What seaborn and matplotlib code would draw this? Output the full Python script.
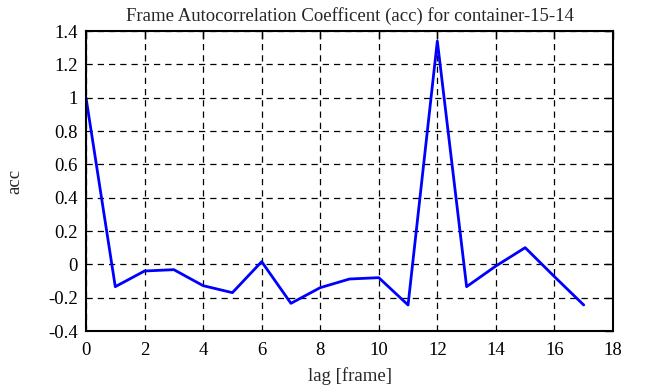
import matplotlib
matplotlib.use("Agg")
import matplotlib.pyplot as plt
import seaborn as sns
import pandas as pd

lags = list(range(18))
acc = [1.0, -0.134, -0.04, -0.032, -0.128, -0.17, 0.016, -0.234, -0.14, -0.088,
       -0.08, -0.244, 1.34, -0.134, -0.01, 0.1, -0.074, -0.244]
xticks = [0, 2, 4, 6, 8, 10, 12, 14, 16, 18]
yticks = [-0.4, -0.2, 0, 0.2, 0.4, 0.6, 0.8, 1, 1.2, 1.4]
ylabels = ["-0.4", "-0.2", "0", "0.2", "0.4", "0.6", "0.8", "1", "1.2", "1.4"]

sns.set_style("white")
plt.rcParams['font.family'] = ['Liberation Serif', 'DejaVu Serif']

df = pd.DataFrame({"lag": lags, "acc": acc})
fig = plt.figure(figsize=(6.51, 3.87), dpi=100)
ax = fig.add_axes([86/651, 1-331/387, 527/651, 300/387])
sns.lineplot(data=df, x="lag", y="acc", ax=ax, color="#0000ff", linewidth=2)
ax.set_xlim(0, 18)
ax.set_ylim(-0.4, 1.4)
ax.set_xticks(xticks)
ax.set_xticklabels([str(t) for t in xticks])
ax.set_yticks(yticks)
ax.set_yticklabels(ylabels)
ax.grid(True, color="black", linestyle=(0, (5, 4)), linewidth=0.9)
ax.tick_params(axis="both", direction="in", length=6, width=1, top=True, right=True,
               labelsize=13.5, colors="black")
ax.tick_params(axis="x", pad=8)
ax.tick_params(axis="y", pad=6)
for lab in ax.get_xticklabels() + ax.get_yticklabels():
    lab.set_color("black")
for s in ax.spines.values():
    s.set_color("black")
    s.set_linewidth(1.5)
ax.set_xlabel("lag [frame]", fontsize=13.5, labelpad=6)
ax.set_ylabel("acc", fontsize=13.5, labelpad=18)
ax.set_title("Frame Autocorrelation Coefficent (acc) for container-15-14", fontsize=13.5, pad=7)
fig.savefig("out.png", dpi=100)
